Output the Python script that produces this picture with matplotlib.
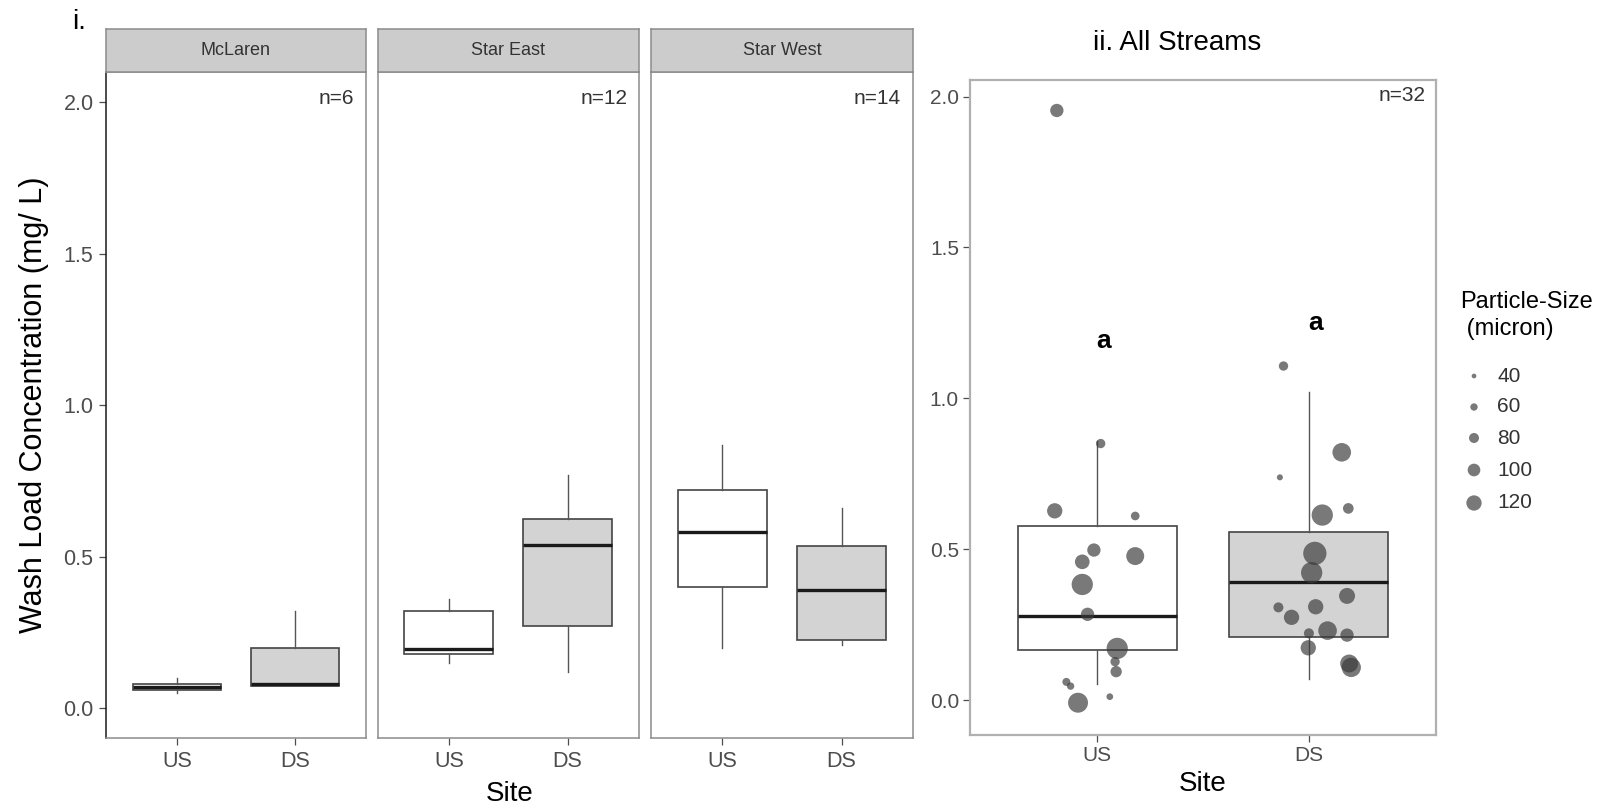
import matplotlib
matplotlib.use('Agg')
import matplotlib.pyplot as plt

plt.rcParams['font.family'] = ['Liberation Sans', 'DejaVu Sans']

# ---- data ----
sites = ['US', 'DS']
streams = ['McLaren', 'Star East', 'Star West']
stream_n = [6, 12, 14]

# five-number summaries per stream (whisker low, q1, median, q3, whisker high)
us_lo = [0.05, 0.15, 0.20]
us_q1 = [0.06, 0.18, 0.40]
us_med = [0.07, 0.195, 0.58]
us_q3 = [0.08, 0.32, 0.72]
us_hi = [0.10, 0.36, 0.87]

ds_lo = [0.075, 0.12, 0.21]
ds_q1 = [0.075, 0.27, 0.225]
ds_med = [0.08, 0.54, 0.39]
ds_q3 = [0.20, 0.625, 0.535]
ds_hi = [0.32, 0.77, 0.66]

# all streams pooled
all_n = 32
all_us_box = [0.053, 0.167, 0.28, 0.577, 0.86]
all_ds_box = [0.07, 0.21, 0.39, 0.558, 1.02]

us_conc = [1.954, 0.85, 0.627, 0.61, 0.497, 0.458, 0.477, 0.383, 0.284,
           0.171, 0.127, 0.094, 0.06, 0.046, 0.011, -0.009]
us_size = [105, 75, 120, 70, 105, 115, 140, 165, 105,
           165, 75, 90, 65, 60, 55, 155]
us_jitter = [-0.19, 0.017, -0.20, 0.18, -0.015, -0.07, 0.18, -0.07, -0.045,
             0.095, 0.085, 0.09, -0.145, -0.125, 0.06, -0.09]

ds_conc = [1.107, 0.821, 0.738, 0.635, 0.613, 0.486, 0.422, 0.345, 0.307,
           0.309, 0.274, 0.221, 0.23, 0.215, 0.173, 0.121, 0.108]
ds_size = [75, 145, 50, 85, 165, 180, 165, 125, 80,
           120, 120, 80, 145, 105, 120, 140, 150]
ds_jitter = [-0.12, 0.155, -0.137, 0.186, 0.063, 0.028, 0.013, 0.18, -0.144,
             0.032, -0.082, 0.0, 0.088, 0.18, -0.003, 0.19, 0.2]

letters = ['a', 'a']
letter_y = [1.19, 1.25]

legend_sizes = [40, 60, 80, 100, 120]

# ---- figure helpers ----
W, H = 1621, 806
fig = plt.figure(figsize=(W / 100, H / 100), dpi=100)


def px_axes(l, t, r, b):
    return fig.add_axes([l / W, 1 - b / H, (r - l) / W, (b - t) / H])


def size_to_s(s):
    d_px = 4.7 + (s - 40) * 0.1325
    return (d_px * 0.72) ** 2


def five(lo, q1, med, q3, hi):
    return dict(whislo=lo, q1=q1, med=med, q3=q3, whishi=hi, fliers=[])


BORDER = '#8c8c8c'
TICKC = '#4d4d4d'
PTC = '#3a3a3a'
fills = ['white', '#d3d3d3']


def draw_boxes(ax, stats):
    bp = ax.bxp(stats, positions=[1, 2], widths=0.75, patch_artist=True,
                showfliers=False, showcaps=False,
                boxprops=dict(edgecolor='#444444', linewidth=1.2),
                medianprops=dict(color='#1a1a1a', linewidth=2.4),
                whiskerprops=dict(color='#555555', linewidth=1.0))
    for patch, fc in zip(bp['boxes'], fills):
        patch.set_facecolor(fc)
    return bp


# ---- panel i: faceted by stream ----
panel_x = [(106, 366), (377.5, 639), (651, 913)]
for i, (l, r) in enumerate(panel_x):
    ax = px_axes(l, 72.3, r, 738.3)
    stats = [five(us_lo[i], us_q1[i], us_med[i], us_q3[i], us_hi[i]),
             five(ds_lo[i], ds_q1[i], ds_med[i], ds_q3[i], ds_hi[i])]
    draw_boxes(ax, stats)
    ax.set_xlim(0.4, 2.6)
    ax.set_ylim(-0.099, 2.098)
    ax.set_xticks([1, 2])
    ax.set_xticklabels(sites)
    ax.set_yticks([0, 0.5, 1.0, 1.5, 2.0])
    ax.set_yticklabels(['0.0', '0.5', '1.0', '1.5', '2.0'])
    ax.tick_params(colors=TICKC, labelsize=15.5, length=5, width=0.9, pad=4)
    for sp in ax.spines.values():
        sp.set_color(BORDER)
        sp.set_linewidth(1.1)
    if i == 0:
        ax.spines['left'].set_color('#1a1a1a')
    else:
        ax.tick_params(axis='y', left=False, labelleft=False)
    ax.text(2.5, 2.01, f'n={stream_n[i]}', ha='right', va='center',
            fontsize=15, color='#333333')

    strip = px_axes(l, 29.3, r, 72.3)
    strip.set_facecolor('#cccccc')
    strip.set_xticks([])
    strip.set_yticks([])
    for sp in strip.spines.values():
        sp.set_color(BORDER)
        sp.set_linewidth(1.1)
    strip.text(0.5, 0.5, streams[i], ha='center', va='center',
               fontsize=13, color='#333333', transform=strip.transAxes)

fig.text(34 / W, 1 - 405 / H, 'Wash Load Concentration (mg/ L)', rotation=90,
         ha='center', va='center', fontsize=22)
fig.text(509.5 / W, 1 - 794 / H, 'Site', ha='center', va='center', fontsize=20)
fig.text(72 / W, 1 - 22 / H, 'i.', ha='left', va='center', fontsize=20)

# ---- panel ii: all streams ----
ax2 = px_axes(970, 80, 1436, 735)
draw_boxes(ax2, [five(*all_us_box), five(*all_ds_box)])
ax2.scatter([1 + j for j in us_jitter], us_conc,
            s=[size_to_s(v) for v in us_size], color=PTC, alpha=0.68,
            linewidths=0, zorder=5)
ax2.scatter([2 + j for j in ds_jitter], ds_conc,
            s=[size_to_s(v) for v in ds_size], color=PTC, alpha=0.68,
            linewidths=0, zorder=5)
for k, (lab, yy) in enumerate(zip(letters, letter_y)):
    ax2.text(k + 1.03, yy, lab, ha='center', va='center', fontsize=19,
             fontweight='bold')
ax2.text(2.55, 2.005, f'n={all_n}', ha='right', va='center', fontsize=15,
         color='#333333')
ax2.set_xlim(0.4, 2.6)
ax2.set_ylim(-0.116, 2.055)
ax2.set_xticks([1, 2])
ax2.set_xticklabels(sites)
ax2.set_yticks([0, 0.5, 1.0, 1.5, 2.0])
ax2.set_yticklabels(['0.0', '0.5', '1.0', '1.5', '2.0'])
ax2.tick_params(colors=TICKC, labelsize=15, length=5, width=0.9, pad=3)
for sp in ax2.spines.values():
    sp.set_color('#b0b0b0')
    sp.set_linewidth(1.6)
fig.text(1203 / W, 1 - 784 / H, 'Site', ha='center', va='center', fontsize=20)
fig.text(1177 / W, 1 - 43 / H, 'ii. All Streams', ha='center', va='center',
         fontsize=20)

# ---- size legend ----
lax = px_axes(1450, 280, 1621, 520)
lax.set_xlim(1450, 1621)
lax.set_ylim(520, 280)
lax.axis('off')
lax.text(1460, 302, 'Particle-Size', ha='left', va='center', fontsize=17)
lax.text(1460, 329, ' (micron)', ha='left', va='center', fontsize=17)
row_y = [376, 407, 438, 470, 503]
lax.scatter([1474] * len(legend_sizes), row_y,
            s=[size_to_s(v) for v in legend_sizes], color=PTC,
            alpha=0.68, linewidths=0, clip_on=False)
for v, yy in zip(legend_sizes, row_y):
    lax.text(1497, yy, str(v), ha='left', va='center', fontsize=15,
             color='#333333')

fig.savefig('out.png', dpi=100)
